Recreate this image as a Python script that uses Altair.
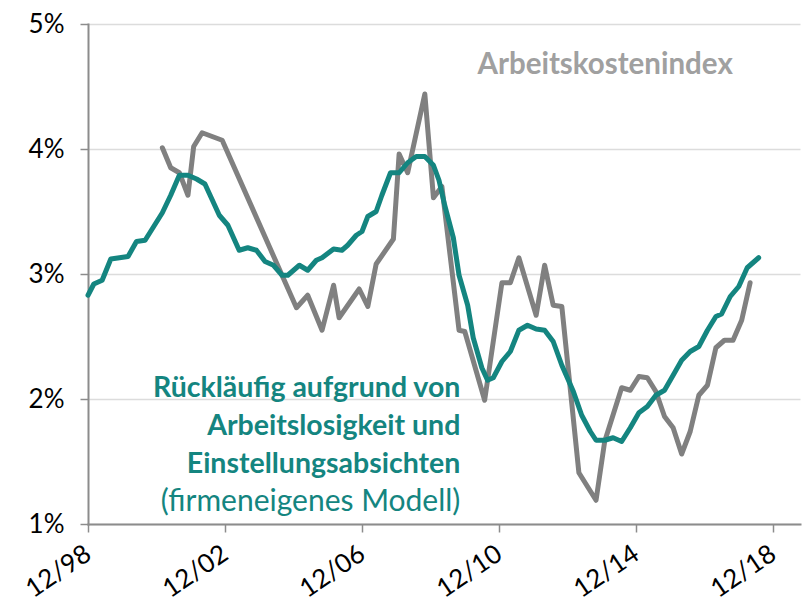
import altair as alt
import pandas as pd

# Firm's own model (teal)
model_dates = ["1998-12", "1999-02", "1999-05", "1999-08", "1999-11", "2000-02", "2000-05", "2000-08",
               "2000-11", "2001-02", "2001-05", "2001-08", "2001-11", "2002-02", "2002-05", "2002-08",
               "2002-10", "2003-01", "2003-05", "2003-08", "2003-11", "2004-02", "2004-05", "2004-08",
               "2004-10", "2005-02", "2005-05", "2005-08", "2005-10", "2006-02", "2006-05", "2006-07",
               "2006-10", "2006-12", "2007-02", "2007-05", "2007-07", "2007-10", "2008-01", "2008-04",
               "2008-07", "2008-10", "2009-01", "2009-03", "2009-05", "2009-08", "2009-10", "2010-01",
               "2010-03", "2010-06", "2010-08", "2010-10", "2011-01", "2011-04", "2011-07", "2011-10",
               "2012-01", "2012-04", "2012-07", "2012-10", "2013-02", "2013-05", "2013-08", "2013-10",
               "2014-01", "2014-04", "2014-07", "2014-10", "2015-01", "2015-04", "2015-07", "2015-10",
               "2016-01", "2016-04", "2016-07", "2016-10", "2017-01", "2017-04", "2017-06", "2017-09",
               "2017-12", "2018-03", "2018-07"]
model_values = [2.83, 2.92, 2.95, 3.12, 3.13, 3.14, 3.26, 3.27,
                3.38, 3.49, 3.63, 3.79, 3.79, 3.76, 3.72, 3.57,
                3.47, 3.39, 3.19, 3.21, 3.19, 3.10, 3.07, 2.99,
                2.99, 3.07, 3.03, 3.11, 3.13, 3.20, 3.19, 3.23,
                3.31, 3.34, 3.46, 3.50, 3.63, 3.81, 3.81, 3.89,
                3.94, 3.94, 3.87, 3.75, 3.55, 3.29, 2.99, 2.75,
                2.49, 2.25, 2.15, 2.17, 2.30, 2.38, 2.55, 2.59,
                2.56, 2.55, 2.46, 2.27, 2.06, 1.87, 1.74, 1.67,
                1.67, 1.69, 1.66, 1.77, 1.89, 1.94, 2.03, 2.07,
                2.19, 2.31, 2.38, 2.42, 2.55, 2.66, 2.68, 2.82,
                2.90, 3.05, 3.13]

# Arbeitskostenindex (grey)
eci_dates = ["2001-02", "2001-05", "2001-08", "2001-11", "2002-01", "2002-04", "2002-11", "2005-01",
             "2005-05", "2005-10", "2006-02", "2006-04", "2006-11", "2007-02", "2007-05", "2007-11",
             "2008-01", "2008-04", "2008-10", "2009-01", "2009-04", "2009-10", "2009-12", "2010-07",
             "2011-01", "2011-04", "2011-07", "2012-01", "2012-04", "2012-07", "2012-10", "2013-04",
             "2013-10", "2014-01", "2014-07", "2014-10", "2015-01", "2015-04", "2015-07", "2015-10",
             "2016-01", "2016-04", "2016-07", "2016-10", "2017-01", "2017-04", "2017-07", "2017-10",
             "2018-01", "2018-04"]
eci_values = [4.01, 3.85, 3.81, 3.63, 4.02, 4.13, 4.07, 2.73,
              2.83, 2.55, 2.91, 2.65, 2.88, 2.74, 3.08, 3.28,
              3.96, 3.81, 4.44, 3.61, 3.70, 2.55, 2.54, 1.99,
              2.93, 2.93, 3.13, 2.67, 3.07, 2.75, 2.74, 1.41,
              1.19, 1.66, 2.09, 2.07, 2.18, 2.17, 2.06, 1.86,
              1.77, 1.56, 1.74, 2.03, 2.11, 2.41, 2.47, 2.47,
              2.63, 2.93]

tick_years = [1998, 2002, 2006, 2010, 2014, 2018]
y_ticks = [1, 2, 3, 4, 5]

label_texts = ["Arbeitskostenindex"]
model_label_lines = ["Rückläufig aufgrund von", "Arbeitslosigkeit und",
                     "Einstellungsabsichten", "(firmeneigenes Modell)"]

TEAL = "#148580"
GREY = "#808080"
FONT = "Lato"

model_df = pd.DataFrame({"date": pd.to_datetime(model_dates), "value": model_values})
eci_df = pd.DataFrame({"date": pd.to_datetime(eci_dates), "value": eci_values})

x_scale = alt.Scale(domain=[alt.DateTime(year=1998, month=12, date=1),
                            alt.DateTime(year=2019, month=9, date=15)])
y_scale = alt.Scale(domain=[1, 5], nice=False, zero=False)

x_axis = alt.Axis(values=[alt.DateTime(year=y, month=12, date=1) for y in tick_years],
                  format="%m/%y", labelAngle=326, labelAlign="right", labelBaseline="middle",
                  labelPadding=19, tickSize=8, tickColor="#8c8c8c", domainColor="#8c8c8c",
                  domainWidth=2, tickWidth=1.5, grid=False, labelFontSize=26, labelFont=FONT,
                  labelColor="#000000", title=None)
y_axis = alt.Axis(values=y_ticks, labelExpr="datum.value + '%'", tickSize=8,
                  tickColor="#8c8c8c", domainColor="#8c8c8c", domainWidth=2, tickWidth=1.5,
                  grid=True, gridColor="#dcdcdc", gridWidth=1.5, labelFontSize=26,
                  labelFont=FONT, labelColor="#000000", labelPadding=16, title=None)

eci_line = alt.Chart(eci_df).mark_line(color=GREY, strokeWidth=5, strokeJoin="round",
                                       strokeCap="round").encode(
    x=alt.X("date:T", scale=x_scale, axis=x_axis),
    y=alt.Y("value:Q", scale=y_scale, axis=y_axis),
)
model_line = alt.Chart(model_df).mark_line(color=TEAL, strokeWidth=5, strokeJoin="round",
                                           strokeCap="round").encode(
    x=alt.X("date:T", scale=x_scale),
    y=alt.Y("value:Q", scale=y_scale),
)

eci_label_df = pd.DataFrame({"date": pd.to_datetime(["2010-04-15"]), "value": [4.67],
                             "text": label_texts})
eci_label = alt.Chart(eci_label_df).mark_text(align="left", baseline="middle", fontSize=29.5,
                                              fontWeight="bold", font=FONT, color="#a0a0a0").encode(
    x=alt.X("date:T", scale=x_scale), y=alt.Y("value:Q", scale=y_scale), text="text:N")

model_label_df = pd.DataFrame({
    "date": pd.to_datetime(["2009-10-15"] * 4),
    "value": [2.09, 1.785, 1.48, 1.18],
    "text": model_label_lines,
    "weight": ["bold", "bold", "bold", "normal"],
})
model_label_bold = alt.Chart(model_label_df[model_label_df.weight == "bold"]).mark_text(
    align="right", baseline="middle", fontSize=28.5, fontWeight="bold", font=FONT, color=TEAL).encode(
    x=alt.X("date:T", scale=x_scale), y=alt.Y("value:Q", scale=y_scale), text="text:N")
model_label_norm = alt.Chart(model_label_df[model_label_df.weight == "normal"]).mark_text(
    align="right", baseline="middle", fontSize=30, fontWeight="normal", font=FONT, color=TEAL).encode(
    x=alt.X("date:T", scale=x_scale), y=alt.Y("value:Q", scale=y_scale), text="text:N")

chart = alt.layer(eci_line, model_line, eci_label, model_label_bold, model_label_norm).properties(
    width=712, height=500,
    autosize=alt.AutoSizeParams(type="none"),
    padding={"left": 80, "top": 16, "right": 2, "bottom": 84},
).configure_view(stroke=None).configure_axis(domainCap="square")

chart.save("out.html", embed_options={"renderer": "svg", "actions": False})
